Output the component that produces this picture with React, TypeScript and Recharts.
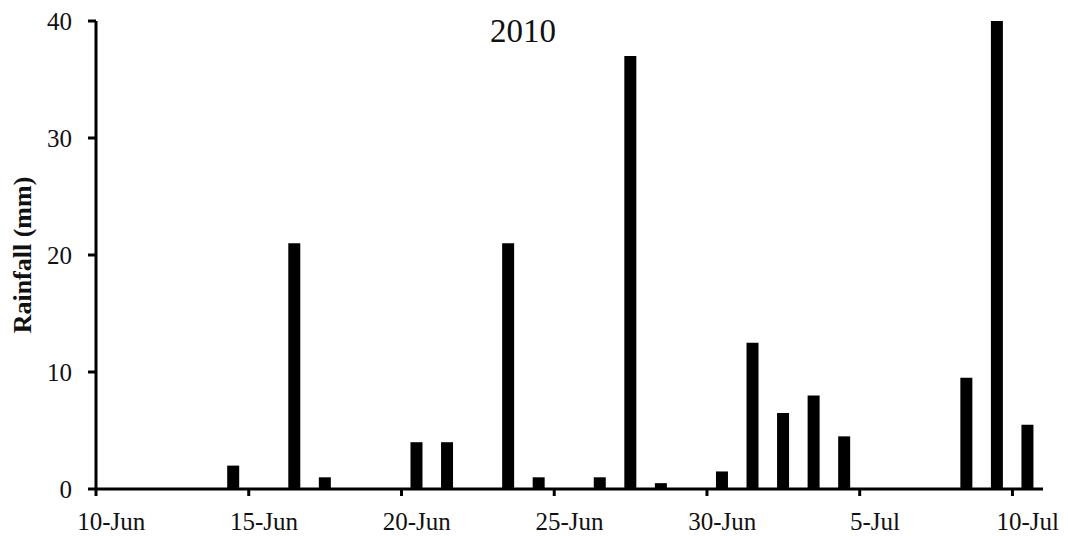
import { BarChart, Bar, XAxis, YAxis } from 'recharts';

// one entry per day, 10-Jun .. 10-Jul 2010
const days = [
  '10-Jun', '11-Jun', '12-Jun', '13-Jun', '14-Jun', '15-Jun', '16-Jun', '17-Jun',
  '18-Jun', '19-Jun', '20-Jun', '21-Jun', '22-Jun', '23-Jun', '24-Jun', '25-Jun',
  '26-Jun', '27-Jun', '28-Jun', '29-Jun', '30-Jun', '1-Jul', '2-Jul', '3-Jul',
  '4-Jul', '5-Jul', '6-Jul', '7-Jul', '8-Jul', '9-Jul', '10-Jul',
];

// daily rainfall, mm
const rainfall = [
  0, 0, 0, 0, 2, 0, 21, 1,
  0, 0, 4, 4, 0, 21, 1, 0,
  1, 37, 0.5, 0, 1.5, 12.5, 6.5, 8,
  4.5, 0, 0, 0, 9.5, 40, 5.5,
];

const xTickLabels = ['10-Jun', '15-Jun', '20-Jun', '25-Jun', '30-Jun', '5-Jul', '10-Jul'];
const xTickPositions = [0, 5, 10, 15, 20, 25, 30];
const yTicks = [0, 10, 20, 30, 40];

// each bar sits in the middle of its day slot; ticks mark the slot edges
const data = days.map((day, i) => ({ day, pos: i + 0.5, rain: rainfall[i] }));

const FONT = "'Liberation Serif', 'Times New Roman', serif";
const DAY_PX = 947 / 31;

// date labels sit under the middle of the day they name, tick marks at its left edge
function DateTick(props: any) {
  const { x, y, payload } = props;
  const label = xTickLabels[xTickPositions.indexOf(payload.value)] ?? '';
  return (
    <text
      x={x + DAY_PX / 2}
      y={y + 32}
      textAnchor="middle"
      fontSize={25}
      fontFamily={FONT}
      fill="#111"
    >
      {label}
    </text>
  );
}

export default function App() {
  return (
    <div
      style={{
        position: 'absolute',
        left: 0,
        top: 0,
        width: 1068,
        height: 536,
        background: '#fff',
        fontFamily: FONT,
      }}
    >
      <BarChart
        width={1068}
        height={536}
        data={data}
        margin={{ top: 21, right: 25, left: 36, bottom: 17 }}
      >
        <XAxis
          type="number"
          dataKey="pos"
          domain={[0, 31]}
          ticks={xTickPositions}
          interval={0}
          height={30}
          axisLine={{ stroke: '#000', strokeWidth: 3 }}
          tickLine={{ stroke: '#000', strokeWidth: 3 }}
          tickSize={7}
          tick={<DateTick />}
        />
        <YAxis
          type="number"
          domain={[0, 40]}
          ticks={yTicks}
          interval={0}
          width={60}
          axisLine={{ stroke: '#000', strokeWidth: 3 }}
          tickLine={{ stroke: '#000', strokeWidth: 3 }}
          tickSize={8}
          tickMargin={16}
          tick={{ fill: '#111', fontSize: 25, fontFamily: FONT }}
        />
        <Bar dataKey="rain" fill="#000" barSize={12} isAnimationActive={false} />
      </BarChart>
      <div
        style={{
          position: 'absolute',
          left: 423,
          top: 12,
          width: 200,
          textAlign: 'center',
          fontSize: 33,
          color: '#111',
          lineHeight: '38px',
        }}
      >
        2010
      </div>
      <div
        style={{
          position: 'absolute',
          left: 23,
          top: 255,
          transform: 'translate(-50%, -50%) rotate(-90deg)',
          whiteSpace: 'nowrap',
          fontSize: 26,
          fontWeight: 'bold',
          color: '#111',
          lineHeight: '28px',
        }}
      >
        Rainfall (mm)
      </div>
    </div>
  );
}
